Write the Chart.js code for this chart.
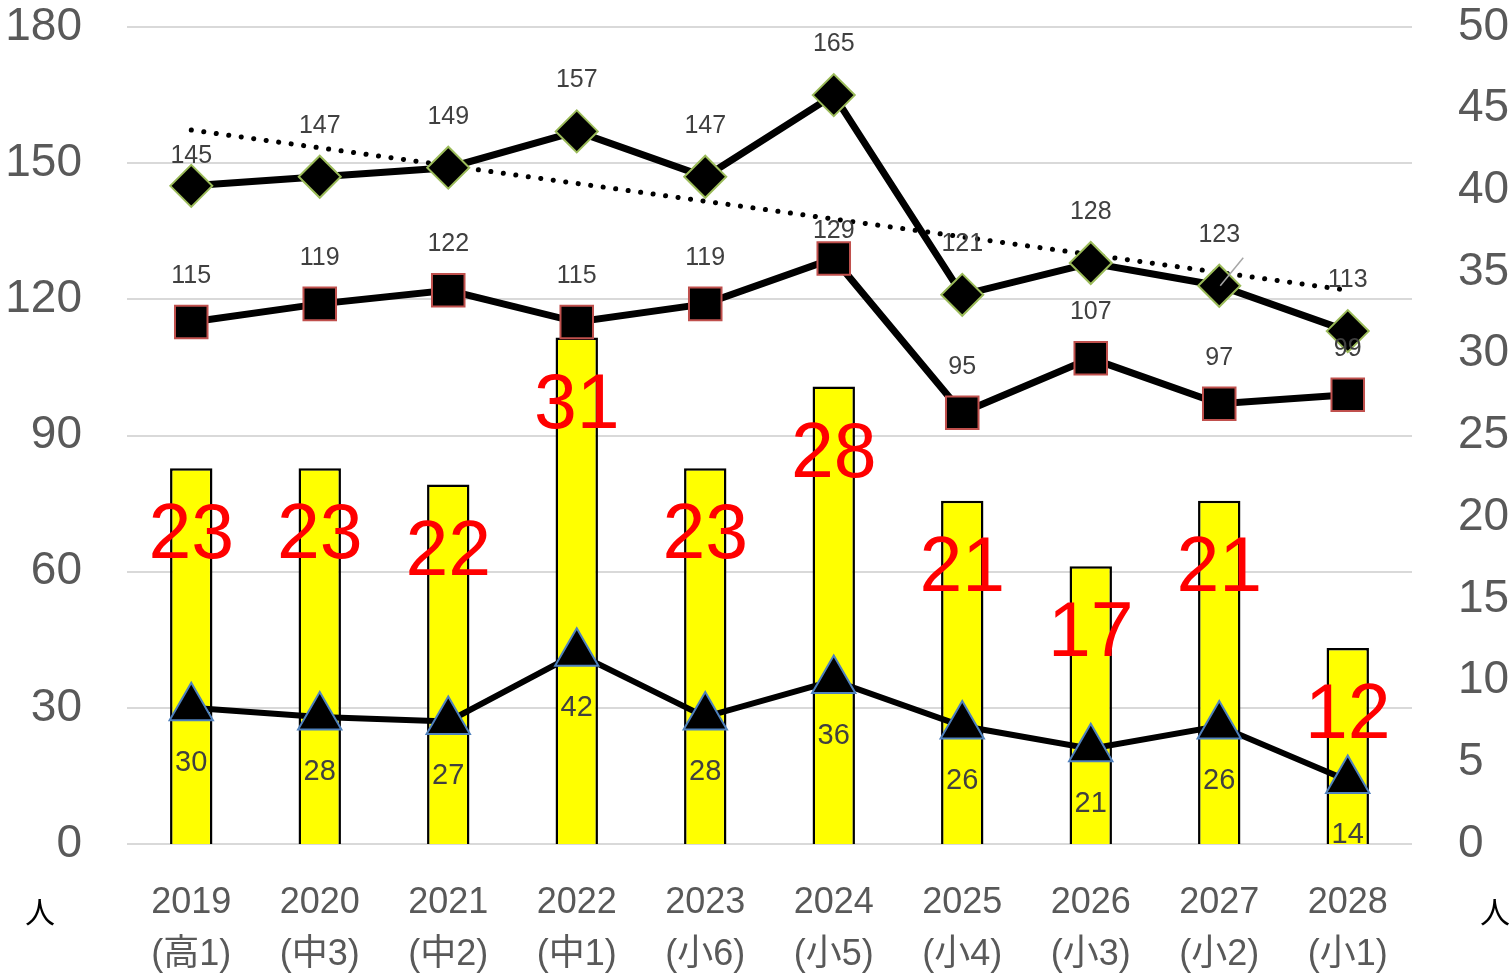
<!DOCTYPE html>
<html>
<head>
<meta charset="utf-8">
<script src="https://cdn.jsdelivr.net/npm/chart.js@4.4.0/dist/chart.umd.min.js"></script>
<style>
html, body { margin: 0; padding: 0; background: #fff; }
</style>
</head>
<body>
<canvas id="grafico" width="1509" height="975"></canvas>
<script>
// dati
var nendo = ["2019", "2020", "2021", "2022", "2023", "2024", "2025", "2026", "2027", "2028"];
var gakunen = ["(高1)", "(中3)", "(中2)", "(中1)", "(小6)", "(小5)", "(小4)", "(小3)", "(小2)", "(小1)"];
var serieRombi = [145, 147, 149, 157, 147, 165, 121, 128, 123, 113];
var serieQuadrati = [115, 119, 122, 115, 119, 129, 95, 107, 97, 99];
var serieTriangoli = [30, 28, 27, 42, 28, 36, 26, 21, 26, 14];
var serieBarre = [23, 23, 22, 31, 23, 28, 21, 17, 21, 12];
var tendenza = [157.3, null, null, null, null, null, null, null, null, 122];
var tickSinistra = [0, 30, 60, 90, 120, 150, 180];
var tickDestra = [0, 5, 10, 15, 20, 25, 30, 35, 40, 45, 50];

var categorie = nendo.map(function (n, i) { return [n, gakunen[i]]; });

var pluginEtichette = {
    id: 'etichette',
    afterDatasetsDraw: function (chart) {
        var ctx = chart.ctx;
        chart.data.datasets.forEach(function (ds, i) {
            var st = ds.stileEtichetta;
            if (!st) return;
            var meta = chart.getDatasetMeta(i);
            ctx.save();
            ctx.font = st.font;
            ctx.fillStyle = st.colore;
            ctx.textAlign = 'center';
            ctx.textBaseline = 'middle';
            meta.data.forEach(function (el, j) {
                var dy = (st.eccezioni && st.eccezioni[j] !== undefined) ? st.eccezioni[j] : st.dy;
                ctx.fillText(String(ds.data[j]), el.x, el.y + dy);
                if (st.linea && st.linea === j) {
                    ctx.save();
                    ctx.strokeStyle = '#a6a6a6';
                    ctx.lineWidth = 1.5;
                    ctx.beginPath();
                    ctx.moveTo(el.x + 24, el.y - 28);
                    ctx.lineTo(el.x + 1, el.y);
                    ctx.stroke();
                    ctx.restore();
                }
            });
            ctx.restore();
        });
    },
    afterDraw: function (chart) {
        var ctx = chart.ctx;
        ctx.save();
        ctx.font = '30px "Noto Sans CJK JP"';
        ctx.fillStyle = '#000';
        ctx.textAlign = 'center';
        ctx.textBaseline = 'middle';
        ctx.fillText('人', 40, 912);
        ctx.fillText('人', 1495, 912);
        ctx.restore();
    }
};

function fissaAsse(larghezza) {
    return function (scale) {
        scale.width = larghezza;
        scale.paddingTop = 27;
        scale.paddingBottom = 0;
    };
}

var ctx = document.getElementById('grafico');
var myChart = new Chart(ctx, {
    type: 'bar',
    data: {
        labels: categorie,
        datasets: [
            {
                type: 'line',
                data: serieRombi,
                yAxisID: 'y',
                order: 1,
                borderColor: '#000',
                borderWidth: 7,
                pointStyle: 'rectRot',
                pointRadius: 21,
                pointBackgroundColor: '#000',
                pointBorderColor: '#9BBB59',
                pointBorderWidth: 2,
                stileEtichetta: { font: '25px "Liberation Sans"', colore: '#404040', dy: -51, eccezioni: { 0: -30 }, linea: 8 }
            },
            {
                type: 'line',
                data: serieQuadrati,
                yAxisID: 'y',
                order: 2,
                borderColor: '#000',
                borderWidth: 7,
                pointStyle: 'rect',
                pointRadius: 23,
                pointBackgroundColor: '#000',
                pointBorderColor: '#C0504D',
                pointBorderWidth: 2,
                stileEtichetta: { font: '25px "Liberation Sans"', colore: '#404040', dy: -46, eccezioni: { 5: -27 } }
            },
            {
                type: 'line',
                data: serieTriangoli,
                yAxisID: 'y',
                order: 3,
                borderColor: '#000',
                borderWidth: 6,
                pointStyle: 'triangle',
                pointRadius: 25,
                pointBackgroundColor: '#000',
                pointBorderColor: '#4F81BD',
                pointBorderWidth: 2,
                stileEtichetta: { font: '29px "Liberation Sans"', colore: '#404040', dy: 55 }
            },
            {
                type: 'line',
                data: tendenza,
                yAxisID: 'y',
                order: 4,
                spanGaps: true,
                borderColor: '#000',
                borderWidth: 5,
                borderDash: [0.1, 12.5],
                borderCapStyle: 'round',
                pointRadius: 0
            },
            {
                type: 'bar',
                data: serieBarre,
                yAxisID: 'y1',
                order: 5,
                backgroundColor: '#FFFF00',
                borderColor: '#000',
                borderWidth: 2.5,
                barPercentage: 0.33,
                categoryPercentage: 1,
                stileEtichetta: { font: '77px "Liberation Sans"', colore: '#FF0000', dy: 69 }
            }
        ]
    },
    options: {
        responsive: false,
        devicePixelRatio: 1,
        animation: false,
        layout: { padding: 0 },
        plugins: {
            legend: { display: false },
            tooltip: { enabled: false }
        },
        scales: {
            x: {
                offset: true,
                grid: { display: false },
                border: { display: false },
                ticks: {
                    color: '#595959',
                    font: { family: '"Liberation Sans", "Noto Sans CJK JP"', size: 36, lineHeight: 1.45 },
                    padding: 25,
                    maxRotation: 0,
                    autoSkip: false
                },
                afterFit: function (scale) { scale.height = 131; }
            },
            y: {
                position: 'left',
                min: 0,
                max: 180,
                afterBuildTicks: function (scale) { scale.ticks = tickSinistra.map(function (v) { return { value: v }; }); },
                grid: { color: '#d9d9d9', lineWidth: 2, drawTicks: false },
                border: { display: false },
                ticks: {
                    color: '#595959',
                    font: { family: '"Liberation Sans Narrow", "Liberation Sans"', size: 46 },
                    padding: 45
                },
                afterFit: fissaAsse(127)
            },
            y1: {
                position: 'right',
                min: 0,
                max: 50,
                afterBuildTicks: function (scale) { scale.ticks = tickDestra.map(function (v) { return { value: v }; }); },
                grid: { display: false, drawTicks: false },
                border: { display: false },
                ticks: {
                    color: '#595959',
                    font: { family: '"Liberation Sans Narrow", "Liberation Sans"', size: 46 },
                    padding: 46
                },
                afterFit: fissaAsse(97)
            }
        }
    },
    plugins: [pluginEtichette]
});
</script>
</body>
</html>
